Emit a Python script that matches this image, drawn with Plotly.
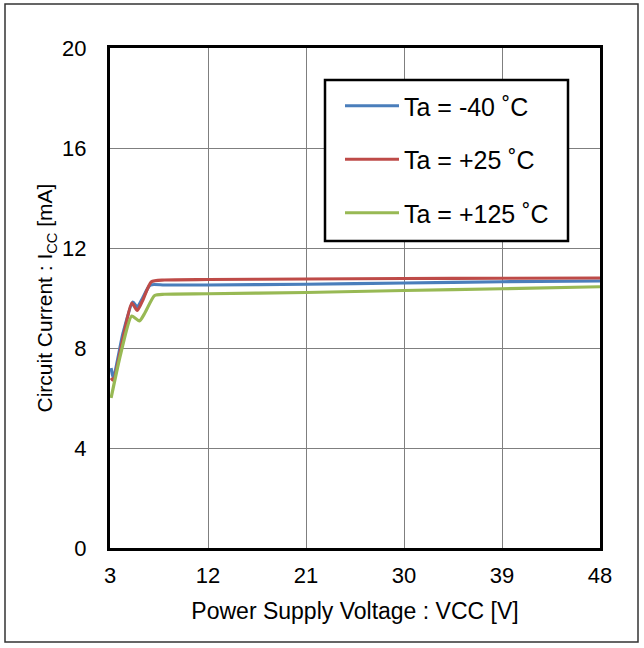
import plotly.graph_objects as go

vcc_m40 = [3.1, 3.3, 4.2, 5.1, 5.5, 6.0, 6.7, 8, 12, 21, 30, 39, 48]
icc_m40 = [7.2, 6.8, 8.6, 9.84, 9.64, 10.0, 10.52, 10.52, 10.52, 10.55, 10.6, 10.65, 10.68]

vcc_25 = [3.1, 3.3, 4.2, 5.0, 5.5, 6.0, 6.8, 8, 12, 21, 30, 39, 48]
icc_25 = [6.8, 6.7, 8.4, 9.8, 9.5, 9.9, 10.65, 10.72, 10.74, 10.76, 10.78, 10.79, 10.8]

vcc_125 = [3.1, 4.0, 5.0, 5.7, 6.2, 7.1, 8, 12, 21, 30, 39, 48]
icc_125 = [6.0, 7.8, 9.28, 9.08, 9.4, 10.1, 10.15, 10.17, 10.22, 10.3, 10.37, 10.45]

names = ["Ta = -40 ˚C", "Ta = +25 ˚C", "Ta = +125 ˚C"]
colors = ["#4a7ebb", "#be4b48", "#98b954"]

x_ticks = [3, 12, 21, 30, 39, 48]
y_ticks = [0, 4, 8, 12, 16, 20]

fig = go.Figure()
for i, (xs, ys) in enumerate([(vcc_m40, icc_m40), (vcc_25, icc_25), (vcc_125, icc_125)]):
    fig.add_trace(go.Scatter(x=xs, y=ys, mode="lines", name=names[i],
                             line=dict(color=colors[i], width=3.2, shape="spline", smoothing=0.6),
                             legendgroup=str(i)))

fam = "Liberation Sans, Arial, sans-serif"
tick_font = dict(family=fam, size=22, color="black")
xt_font = dict(family=fam, size=23, color="black")
yt_font = dict(family=fam, size=21, color="black")

W, H = 490, 500
L, T = 110, 48
def px(xp):
    return (xp - L) / W
def py(yp):
    return (T + H - yp) / H

fig.update_layout(
    width=644, height=648,
    margin=dict(l=L, r=644 - L - W, t=T, b=648 - T - H),
    paper_bgcolor="white", plot_bgcolor="white",
    font=tick_font,
    showlegend=True,
    legend=dict(x=px(340), y=py(83), xanchor="left", yanchor="top",
                bgcolor="rgba(0,0,0,0)", borderwidth=0,
                font=dict(family=fam, size=25, color="black"),
                tracegroupgap=18, itemwidth=54),
    xaxis=dict(range=[3, 48], tickvals=x_ticks, ticktext=[str(v) for v in x_ticks],
               showgrid=True, gridcolor="#7f7f7f", gridwidth=1,
               showline=True, linecolor="black", linewidth=3, mirror=True,
               ticks="", ticklabelstandoff=6, zeroline=False, tickfont=tick_font,
               title=dict(text="Power Supply Voltage : VCC [V]", standoff=16, font=xt_font)),
    yaxis=dict(range=[0, 20], tickvals=y_ticks, ticktext=[str(v) for v in y_ticks],
               showgrid=True, gridcolor="#7f7f7f", gridwidth=1,
               showline=True, linecolor="black", linewidth=3, mirror=True,
               ticks="", ticklabelstandoff=16, zeroline=False, tickfont=tick_font,
               title=dict(text="Circuit Current : I<sub>CC</sub> [mA]", standoff=4, font=yt_font)),
    shapes=[
        dict(type="rect", xref="paper", yref="paper",
             x0=px(5), x1=px(638), y0=py(642), y1=py(4),
             line=dict(color="#333333", width=1.5), layer="below"),
        dict(type="rect", xref="paper", yref="paper",
             x0=px(325), x1=px(568), y0=py(241), y1=py(80),
             line=dict(color="black", width=2.5), fillcolor="white", layer="above"),
    ],
)
fig.write_html("out.html", config={"displayModeBar": False},
               post_script="document.body.style.margin='0';")
